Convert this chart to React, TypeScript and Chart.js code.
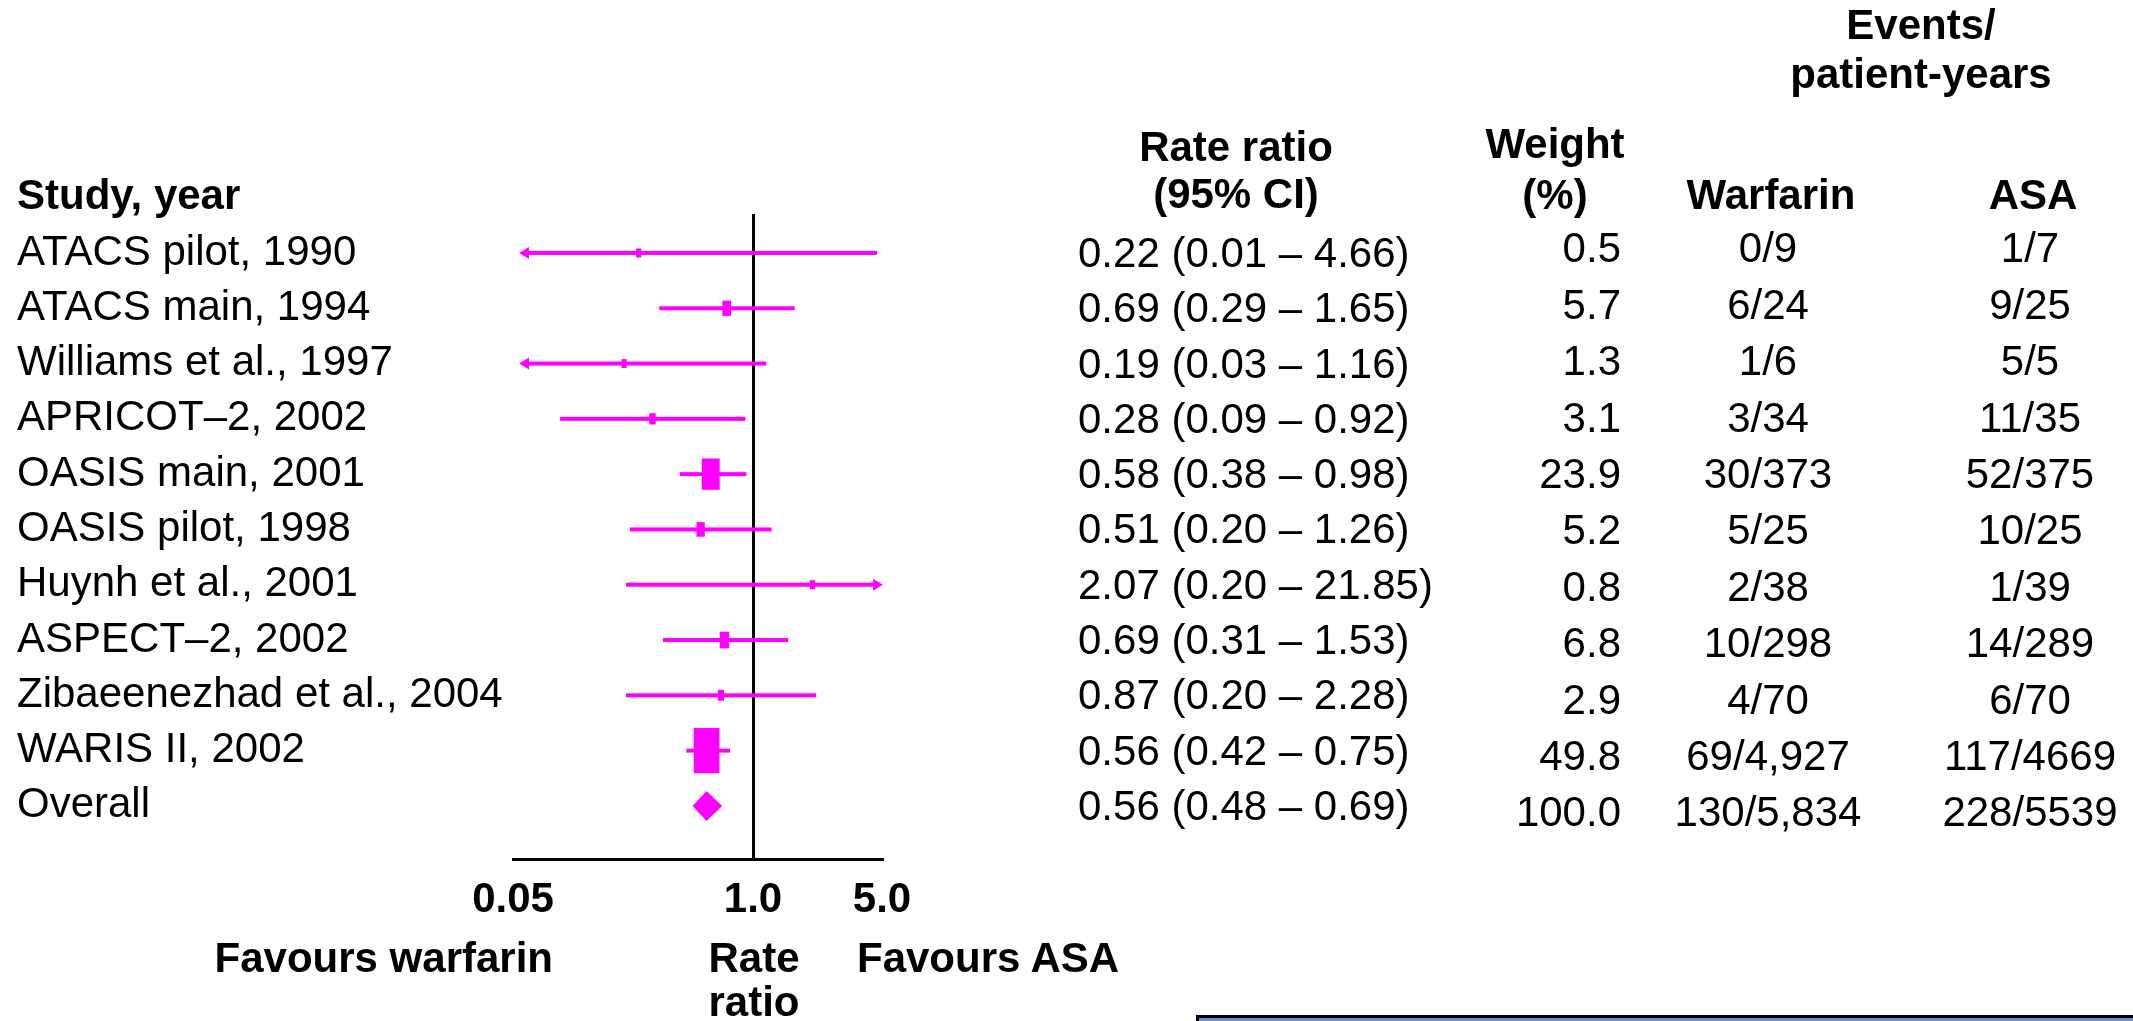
import React, { useEffect, useRef } from 'react';
import { Chart, registerables } from 'chart.js';

Chart.register(...registerables);

// ---------------- data ----------------
const studies = [
  'ATACS pilot, 1990',
  'ATACS main, 1994',
  'Williams et al., 1997',
  'APRICOT–2, 2002',
  'OASIS main, 2001',
  'OASIS pilot, 1998',
  'Huynh et al., 2001',
  'ASPECT–2, 2002',
  'Zibaeenezhad et al., 2004',
  'WARIS II, 2002',
  'Overall',
];
// table column: rate ratio (95% CI) as printed
const rateRatioText = [
  '0.22 (0.01 – 4.66)',
  '0.69 (0.29 – 1.65)',
  '0.19 (0.03 – 1.16)',
  '0.28 (0.09 – 0.92)',
  '0.58 (0.38 – 0.98)',
  '0.51 (0.20 – 1.26)',
  '2.07 (0.20 – 21.85)',
  '0.69 (0.31 – 1.53)',
  '0.87 (0.20 – 2.28)',
  '0.56 (0.42 – 0.75)',
  '0.56 (0.48 – 0.69)',
];
// plotted marks
const pointEst = [0.24, 0.72, 0.2, 0.285, 0.59, 0.52, 2.1, 0.7, 0.67, 0.56, 0.56];
const plotLow = [0.01, 0.31, 0.03, 0.09, 0.4, 0.215, 0.205, 0.325, 0.205, 0.435, 0.47];
const plotHigh = [4.7, 1.68, 1.18, 0.91, 0.92, 1.26, 21.85, 1.55, 2.2, 0.75, 0.68];
const weights = [0.5, 5.7, 1.3, 3.1, 23.9, 5.2, 0.8, 6.8, 2.9, 49.8, 100.0];
const warfarinEvents = ['0/9', '6/24', '1/6', '3/34', '30/373', '5/25', '2/38', '10/298', '4/70', '69/4,927', '130/5,834'];
const asaEvents = ['1/7', '9/25', '5/5', '11/35', '52/375', '10/25', '1/39', '14/289', '6/70', '117/4669', '228/5539'];
const summaryRow = 10;
const xTickValues = [0.05, 1, 5];
const xTickLabels = ['0.05', '1.0', '5.0'];

// ---------------- styles ----------------
const FONT = "'Liberation Sans', Arial, Helvetica, sans-serif";
const MAGENTA = '#FF00FF';
const W = 2133;
const H = 1021;
const FS = 42;
const ASC = 35.55; // baseline offset inside a 42px line box

type Align = 'left' | 'right' | 'center';

function Txt(props: { x: number; b: number; align?: Align; bold?: boolean; children: React.ReactNode }) {
  const { x, b, align = 'left', bold = false, children } = props;
  const style: React.CSSProperties = {
    position: 'absolute',
    top: b - ASC,
    left: x,
    fontFamily: FONT,
    fontSize: FS,
    lineHeight: FS + 'px',
    fontWeight: bold ? 'bold' : 'normal',
    whiteSpace: 'nowrap',
    color: '#000',
    transform: align === 'center' ? 'translateX(-50%)' : align === 'right' ? 'translateX(-100%)' : undefined,
  };
  return <div style={style}>{children}</div>;
}

const forestPlugin = {
  id: 'forestMarks',
  afterDatasetsDraw(chart: any) {
    const { ctx, chartArea } = chart;
    const xs = chart.scales.x;
    const ys = chart.scales.y;
    ctx.save();
    ctx.fillStyle = MAGENTA;
    pointEst.forEach((rr: number, i: number) => {
      const py = ys.getPixelForValue(i);
      const px = xs.getPixelForValue(rr);
      const pl = xs.getPixelForValue(Math.max(plotLow[i], xs.min));
      const ph = xs.getPixelForValue(Math.min(plotHigh[i], xs.max));
      if (i === summaryRow) {
        ctx.beginPath();
        ctx.moveTo(pl, py);
        ctx.lineTo(px, py - 15);
        ctx.lineTo(ph, py);
        ctx.lineTo(px, py + 15);
        ctx.closePath();
        ctx.fill();
        return;
      }
      const clipL = plotLow[i] < xs.min;
      const clipR = plotHigh[i] > xs.max;
      const tipL = chartArea.left + 6;
      const tipR = chartArea.right + 1;
      const x1 = clipL ? tipL + 4 : pl;
      const x2 = clipR ? tipR - 4 : ph;
      ctx.fillRect(x1, py - 2, x2 - x1, 4);
      if (clipL) {
        ctx.beginPath();
        ctx.moveTo(tipL, py);
        ctx.lineTo(tipL + 10, py - 6);
        ctx.lineTo(tipL + 10, py + 6);
        ctx.closePath();
        ctx.fill();
      }
      if (clipR) {
        ctx.beginPath();
        ctx.moveTo(tipR, py);
        ctx.lineTo(tipR - 10, py - 6);
        ctx.lineTo(tipR - 10, py + 6);
        ctx.closePath();
        ctx.fill();
      }
      const bh = Math.max(9, 6.4 * Math.sqrt(weights[i]));
      const bw = Math.max(5, bh * 0.57);
      ctx.fillRect(px - bw / 2, py - bh / 2, bw, bh);
    });
    ctx.restore();
  },
};

export default function App() {
  const canvasRef = useRef<HTMLCanvasElement | null>(null);

  useEffect(() => {
    const canvas = canvasRef.current;
    if (!canvas) return;
    const chart = new Chart(canvas, {
      type: 'scatter',
      data: {
        datasets: [
          {
            label: 'Rate ratio',
            data: pointEst.map((v, i) => ({ x: v, y: i })),
            pointRadius: 0,
            pointHoverRadius: 0,
            backgroundColor: MAGENTA,
            borderColor: MAGENTA,
          },
        ],
      },
      options: {
        responsive: false,
        animation: false,
        events: [],
        layout: { padding: { left: 17, top: 214, right: W - 882, bottom: 0 } },
        plugins: { legend: { display: false }, tooltip: { enabled: false } },
        scales: {
          x: {
            type: 'logarithmic',
            position: 'bottom',
            min: 0.05,
            max: 5,
            afterBuildTicks: (axis: any) => {
              axis.ticks = xTickValues.map((v) => ({ value: v }));
            },
            afterFit: (axis: any) => {
              axis.height = H - 859;
            },
            grid: {
              display: true,
              drawOnChartArea: true,
              drawTicks: false,
              lineWidth: 3,
              color: (c: any) => (c.tick && c.tick.value === 1 ? '#000' : 'rgba(0,0,0,0)'),
            },
            border: { display: true, color: '#000', width: 3 },
            ticks: {
              autoSkip: false,
              maxRotation: 0,
              minRotation: 0,
              padding: 16,
              color: '#000',
              font: { family: FONT, size: FS, weight: 'bold' },
              callback: (_v: any, i: number) => xTickLabels[i],
            },
          },
          y: {
            type: 'linear',
            reverse: true,
            min: -0.705,
            max: 10.96,
            afterBuildTicks: (axis: any) => {
              axis.ticks = studies.map((_s, i) => ({ value: i }));
            },
            afterFit: (axis: any) => {
              axis.width = 513 - 17;
            },
            grid: { display: false },
            border: { display: false },
            ticks: {
              autoSkip: false,
              crossAlign: 'far',
              color: '#000',
              font: { family: FONT, size: FS },
              callback: (_v: any, i: number) => studies[i],
            },
          },
        },
      },
      plugins: [forestPlugin],
    } as any);
    return () => chart.destroy();
  }, []);

  const rowB = (i: number) => 267.5 + 55.29 * i;
  const rowB2 = (i: number) => 263 + 56.4 * i;

  return (
    <div style={{ position: 'absolute', left: 0, top: 0, width: W, height: H, overflow: 'hidden', background: '#fff' }}>
      <canvas ref={canvasRef} width={W} height={H} style={{ position: 'absolute', left: 0, top: 0, width: W, height: H }} />

      <Txt x={1921} b={40} align="center" bold>Events/</Txt>
      <Txt x={1921} b={89} align="center" bold>patient-years</Txt>
      <Txt x={1236} b={162} align="center" bold>Rate ratio</Txt>
      <Txt x={1236} b={209} align="center" bold>(95% CI)</Txt>
      <Txt x={1555} b={159} align="center" bold>Weight</Txt>
      <Txt x={1555} b={210} align="center" bold>(%)</Txt>
      <Txt x={1771} b={210} align="center" bold>Warfarin</Txt>
      <Txt x={2033} b={210} align="center" bold>ASA</Txt>
      <Txt x={17} b={210} bold>Study, year</Txt>

      {rateRatioText.map((s, i) => (
        <Txt key={'rr' + i} x={1078} b={rowB(i)}>{s}</Txt>
      ))}
      {weights.map((w, i) => (
        <Txt key={'w' + i} x={1621} b={rowB2(i)} align="right">{w.toFixed(1)}</Txt>
      ))}
      {warfarinEvents.map((s, i) => (
        <Txt key={'wf' + i} x={1768} b={rowB2(i)} align="center">{s}</Txt>
      ))}
      {asaEvents.map((s, i) => (
        <Txt key={'asa' + i} x={2030} b={rowB2(i)} align="center">{s}</Txt>
      ))}

      <Txt x={553} b={973} align="right" bold>Favours warfarin</Txt>
      <Txt x={754} b={973} align="center" bold>Rate</Txt>
      <Txt x={754} b={1017} align="center" bold>ratio</Txt>
      <Txt x={857} b={973} bold>Favours ASA</Txt>

      <div
        style={{
          position: 'absolute',
          left: 1196,
          top: 1015,
          width: W - 1196 + 20,
          height: 60,
          boxSizing: 'border-box',
          border: '3px solid #000',
          background: 'rgb(101,140,204)',
        }}
      />
    </div>
  );
}
